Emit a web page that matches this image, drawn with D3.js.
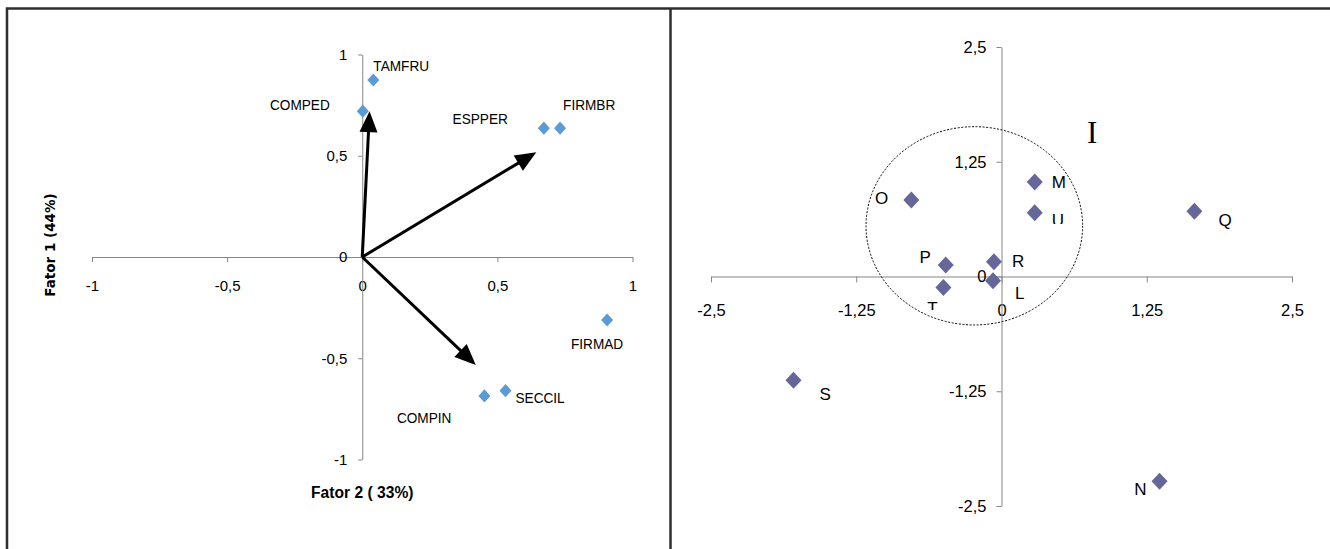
<!DOCTYPE html>
<html><head><meta charset="utf-8">
<script src="https://cdn.jsdelivr.net/npm/d3@7"></script>
<style>
html,body{margin:0;padding:0;background:#fff;}
svg{display:block;}
</style></head>
<body>
<script>
// ---- Left panel: variable loadings (Fator 2 on x, Fator 1 on y) ----
const loadNames = ["TAMFRU", "COMPED", "ESPPER", "FIRMBR", "FIRMAD", "SECCIL", "COMPIN"];
const loadF2 = [0.041, 0.002, 0.672, 0.732, 0.906, 0.530, 0.452];
const loadF1 = [0.874, 0.720, 0.636, 0.636, -0.311, -0.660, -0.686];
// summary direction vectors drawn as arrows from the origin
const vectorF2 = [0.027, 0.644, 0.420];
const vectorF1 = [0.720, 0.517, -0.533];
const leftTicks = [-1, -0.5, 0, 0.5, 1];
const leftXTitle = "Fator 2 ( 33%)";
const leftYTitle = "Fator 1 (44%)";

// ---- Right panel: sample scores ----
const scoreNames = ["L", "M", "N", "O", "P", "Q", "R", "S", "T", "U"];
const scoreX = [-0.073, 0.286, 1.36, -0.776, -0.48, 1.66, -0.065, -1.79, -0.50, 0.286];
const scoreY = [-0.046, 1.03, -2.23, 0.833, 0.125, 0.71, 0.16, -1.13, -0.12, 0.695];
const rightTicks = [-2.5, -1.25, 0, 1.25, 2.5];
// group I outline (centre and radii in score units)
const groupName = "I";
const groupCenter = [-0.234, 0.552];
const groupRadii = [0.932, 1.08];
const groupLabelAt = [0.78, 1.45];

// label placement (pixel offsets from the marker, anchor, optional bottom clip)
const leftLabelPlace = {
  TAMFRU: [0, -9, "start"], COMPED: [-33, -1, "end"], ESPPER: [-36, -4, "end"],
  FIRMBR: [3, -18, "start"], FIRMAD: [-10, 29, "middle"], SECCIL: [10, 12, "start"],
  COMPIN: [-33, 27, "end"]
};
const rightLabelPlace = {
  L: [22, 18, "start"], M: [17, 6, "start"], N: [-13, 14, "end"], O: [-23, 4, "end"],
  P: [-15, -2, "end"], Q: [24, 15, "start"], R: [18, 5, "start"], S: [26, 20, "start"],
  T: [-11, 26, "middle", 310], U: [17, 13, "start", 224]
};

const sans = "'Liberation Sans', Arial, sans-serif";
const fmt = v => String(v).replace(".", ",");

const svg = d3.select("body").append("svg")
  .attr("width", 1330).attr("height", 549);

// frame around the two panels
svg.append("path").attr("d", "M7,549V8.5H1330")
  .attr("fill", "none").attr("stroke", "#2e2e2e").attr("stroke-width", 2.5);
svg.append("line").attr("x1", 670.5).attr("x2", 670.5).attr("y1", 8.5).attr("y2", 549)
  .attr("stroke", "#2e2e2e").attr("stroke-width", 2.5);

function styleAxis(g, size) {
  g.select(".domain").attr("stroke", "#868686");
  g.selectAll(".tick line").attr("stroke", "#868686");
  g.selectAll(".tick text").attr("fill", "#000")
    .attr("font-family", sans).attr("font-size", size);
}

// text squeezed horizontally by sx (narrow face look)
function squeezed(sel, x, y, sx) {
  sel.attr("x", 0).attr("y", 0)
    .attr("transform", (d, i) => `translate(${x(d, i)},${y(d, i)}) scale(${sx},1)`);
}

function diamond(w, h) {
  return `M0,${-h}L${w},0L0,${h}L${-w},0Z`;
}

// ================= left panel =================
const xL = d3.scaleLinear().domain([-1, 1]).range([92, 632.5]);
const yL = d3.scaleLinear().domain([-1, 1]).range([459.5, 54.5]);
const gL = svg.append("g");

gL.append("g").attr("transform", `translate(0,${yL(0)})`)
  .call(d3.axisBottom(xL).tickValues(leftTicks).tickFormat(fmt)
    .tickSize(5).tickSizeOuter(0).tickPadding(18))
  .call(g => styleAxis(g, 15));
gL.append("g").attr("transform", `translate(${xL(0)},0)`)
  .call(d3.axisLeft(yL).tickValues(leftTicks).tickFormat(fmt)
    .tickSize(4).tickSizeOuter(0).tickPadding(11))
  .call(g => styleAxis(g, 15));

const loadings = loadNames.map((n, i) => ({ name: n, x: loadF2[i], y: loadF1[i] }));

gL.selectAll("path.load").data(loadings).join("path").attr("class", "load")
  .attr("d", diamond(6, 6.6))
  .attr("transform", d => `translate(${xL(d.x)},${yL(d.y)})`)
  .attr("fill", "#5B9BD5");

gL.selectAll("text.load").data(loadings).join("text").attr("class", "load")
  .call(squeezed,
    d => xL(d.x) + leftLabelPlace[d.name][0],
    d => yL(d.y) + leftLabelPlace[d.name][1], 0.88)
  .attr("text-anchor", d => leftLabelPlace[d.name][2])
  .attr("font-family", sans).attr("font-size", 15.5).attr("fill", "#000")
  .text(d => d.name);

// arrows
const vectors = vectorF2.map((v, i) => ({ x: v, y: vectorF1[i] }));
vectors.forEach(v => {
  const x0 = xL(0), y0 = yL(0), x1 = xL(v.x), y1 = yL(v.y);
  const L = Math.hypot(x1 - x0, y1 - y0);
  const ux = (x1 - x0) / L, uy = (y1 - y0) / L;
  const head = 21, half = 9;
  const bx = x1 - ux * head, by = y1 - uy * head;
  gL.append("line")
    .attr("x1", x0).attr("y1", y0)
    .attr("x2", x1 - ux * (head - 2)).attr("y2", y1 - uy * (head - 2))
    .attr("stroke", "#000").attr("stroke-width", 3);
  gL.append("path")
    .attr("d", `M${x1},${y1}L${bx - uy * half},${by + ux * half}L${bx + uy * half},${by - ux * half}Z`)
    .attr("fill", "#000");
});

gL.append("text")
  .call(squeezed, () => xL(0), () => 498, 0.92)
  .attr("text-anchor", "middle")
  .attr("font-family", sans).attr("font-weight", "bold").attr("font-size", 17)
  .text(leftXTitle);
gL.append("text")
  .attr("transform", `translate(55,${yL(0) - 12}) rotate(-90)`)
  .attr("text-anchor", "middle")
  .attr("font-family", "'DejaVu Sans', Verdana, sans-serif")
  .attr("font-weight", "bold").attr("font-size", 13.5)
  .text(leftYTitle);

// ================= right panel =================
const xR = d3.scaleLinear().domain([-2.5, 2.5]).range([711, 1292]);
const yR = d3.scaleLinear().domain([-2.5, 2.5]).range([506, 47]);
const gR = svg.append("g");

gR.append("g").attr("transform", `translate(0,${yR(0)})`)
  .call(d3.axisBottom(xR).tickValues(rightTicks).tickFormat(fmt)
    .tickSize(6).tickSizeOuter(0).tickPadding(22))
  .call(g => styleAxis(g, 16.5));
gR.append("g").attr("transform", `translate(${xR(0)},0)`)
  .call(d3.axisLeft(yR).tickValues(rightTicks).tickFormat(fmt)
    .tickSize(5).tickSizeOuter(0).tickPadding(10))
  .call(g => styleAxis(g, 16.5));

gR.append("ellipse")
  .attr("cx", xR(groupCenter[0])).attr("cy", yR(groupCenter[1]))
  .attr("rx", xR(groupRadii[0]) - xR(0)).attr("ry", yR(0) - yR(groupRadii[1]))
  .attr("fill", "none").attr("stroke", "#000").attr("stroke-width", 1)
  .attr("stroke-dasharray", "2,1.6");

gR.append("text")
  .attr("x", xR(groupLabelAt[0])).attr("y", yR(groupLabelAt[1]))
  .attr("text-anchor", "middle")
  .attr("font-family", "'Liberation Serif', 'Times New Roman', serif")
  .attr("font-size", 31).attr("fill", "#000")
  .text(groupName);

const scores = scoreNames.map((n, i) => ({ name: n, x: scoreX[i], y: scoreY[i] }));

gR.selectAll("path.score").data(scores).join("path").attr("class", "score")
  .attr("d", diamond(8, 8.5))
  .attr("transform", d => `translate(${xR(d.x)},${yR(d.y)})`)
  .attr("fill", "#666699");

const defs = svg.append("defs");
scores.forEach(d => {
  const p = rightLabelPlace[d.name];
  if (p[3] !== undefined) {
    defs.append("clipPath").attr("id", "clip-" + d.name)
      .append("rect").attr("x", 700).attr("y", 0).attr("width", 600).attr("height", p[3]);
  }
});

gR.selectAll("text.score").data(scores).join("text").attr("class", "score")
  .attr("x", d => xR(d.x) + rightLabelPlace[d.name][0])
  .attr("y", d => yR(d.y) + rightLabelPlace[d.name][1])
  .attr("text-anchor", d => rightLabelPlace[d.name][2])
  .attr("clip-path", d => rightLabelPlace[d.name][3] !== undefined ? `url(#clip-${d.name})` : null)
  .attr("font-family", sans).attr("font-size", 17).attr("fill", "#000")
  .text(d => d.name);
</script>
</body></html>
